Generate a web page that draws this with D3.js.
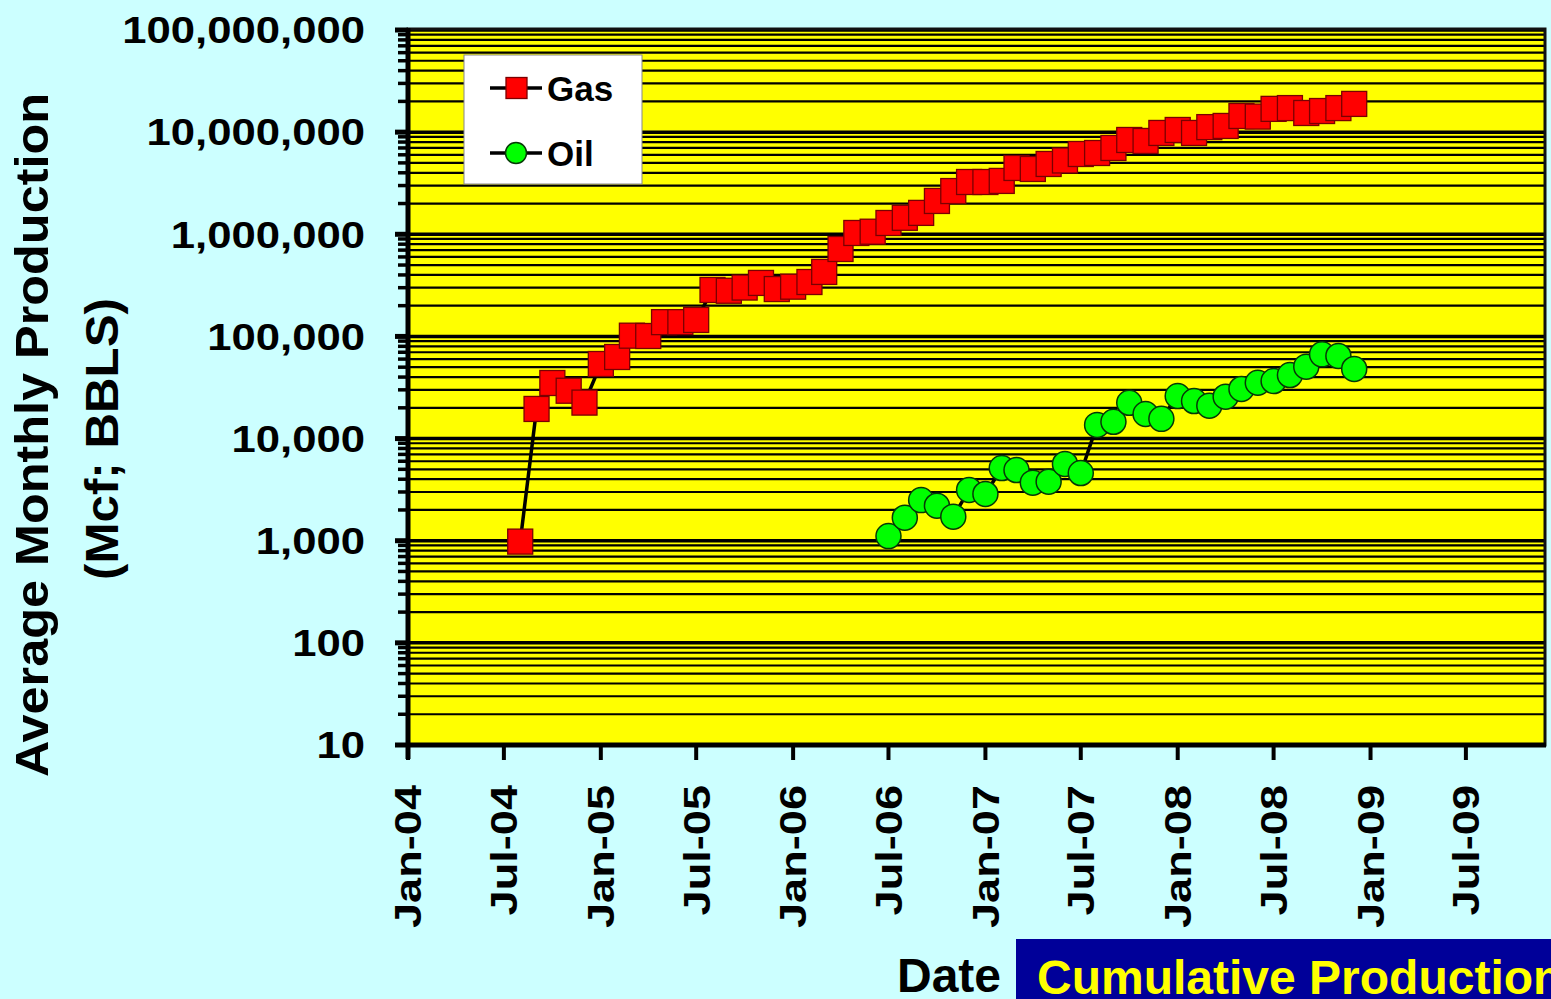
<!DOCTYPE html>
<html>
<head>
<meta charset="utf-8">
<script src="https://cdn.jsdelivr.net/npm/d3@7"></script>
<style>
  html, body { margin: 0; padding: 0; background: #CCFFFF; overflow: hidden; }
  svg { display: block; }
  text { font-family: "Liberation Sans", Arial, Helvetica, sans-serif; font-weight: bold; }
</style>
</head>
<body>
<svg id="chart" width="1551" height="999"></svg>
<script>
// ---------------- DATA ----------------
const gasMonths = ["2004-08","2004-09","2004-10","2004-11","2004-12",
  "2005-01","2005-02","2005-03","2005-04","2005-05","2005-06","2005-07","2005-08","2005-09","2005-10","2005-11","2005-12",
  "2006-01","2006-02","2006-03","2006-04","2006-05","2006-06","2006-07","2006-08","2006-09","2006-10","2006-11","2006-12",
  "2007-01","2007-02","2007-03","2007-04","2007-05","2007-06","2007-07","2007-08","2007-09","2007-10","2007-11","2007-12",
  "2008-01","2008-02","2008-03","2008-04","2008-05","2008-06","2008-07","2008-08","2008-09","2008-10","2008-11","2008-12"];
const gasValues = [980, 19500, 35000, 29400, 22500,
  53700, 62900, 101700, 101000, 138000, 138000, 145000, 285000, 280000, 301000, 334000, 291000,
  307000, 341000, 428000, 718000, 1030000, 1060000, 1290000, 1450000, 1620000, 2120000, 2650000, 3250000,
  3250000, 3330000, 4460000, 4360000, 4880000, 5280000, 6110000, 6250000, 7000000, 8380000, 8200000, 9820000,
  10500000, 9820000, 11200000, 11500000, 14400000, 14200000, 16900000, 17200000, 15400000, 16100000, 17200000, 18900000];

const oilMonths = ["2006-07","2006-08","2006-09","2006-10","2006-11","2006-12",
  "2007-01","2007-02","2007-03","2007-04","2007-05","2007-06","2007-07","2007-08","2007-09","2007-10","2007-11","2007-12",
  "2008-01","2008-02","2008-03","2008-04","2008-05","2008-06","2008-07","2008-08","2008-09","2008-10","2008-11","2008-12"];
const oilValues = [1110, 1680, 2500, 2200, 1720, 3140,
  2870, 5150, 4920, 3700, 3780, 5640, 4600, 13600, 14600, 22400, 17400, 15600,
  26100, 23300, 21000, 25700, 30600, 35200, 36600, 41900, 50600, 66800, 64400, 48000];

const yTickValues = [10, 100, 1000, 10000, 100000, 1000000, 10000000, 100000000];
const xTickLabels = ["Jan-04","Jul-04","Jan-05","Jul-05","Jan-06","Jul-06","Jan-07","Jul-07","Jan-08","Jul-08","Jan-09","Jul-09"];
const xTickDates = ["2004-01","2004-07","2005-01","2005-07","2006-01","2006-07","2007-01","2007-07","2008-01","2008-07","2009-01","2009-07"];
const seriesNames = ["Gas", "Oil"];

// ---------------- SETUP ----------------
const parse = d3.timeParse("%Y-%m");
const svg = d3.select("#chart");

const L = 408, R = 1545, T = 30, B = 745;
const x = d3.scaleTime().domain([parse("2004-01"), parse("2009-12")]).range([L, 1546.5]);
const y = d3.scaleLog().domain([10, 1e8]).range([B, T]);

const gas = gasMonths.map((m, i) => ({ date: parse(m), value: gasValues[i] }));
const oil = oilMonths.map((m, i) => ({ date: parse(m), value: oilValues[i] }));

// background
svg.append("rect").attr("x", 0).attr("y", 0).attr("width", 1551).attr("height", 999).attr("fill", "#CCFFFF");

// plot area
svg.append("rect").attr("x", L).attr("y", T - 1).attr("width", R - L).attr("height", B - T + 1)
  .attr("fill", "#FFFF00");

// gridlines
const minorVals = [];
const majorVals = [];
for (let k = 1; k <= 8; k++) {
  majorVals.push(Math.pow(10, k));
  if (k < 8) for (let m = 2; m <= 9; m++) minorVals.push(m * Math.pow(10, k));
}
svg.append("g").selectAll("line").data(minorVals).join("line")
  .attr("x1", L).attr("x2", R)
  .attr("y1", d => y(d)).attr("y2", d => y(d))
  .attr("stroke", "#000").attr("stroke-width", 2.2);
svg.append("g").selectAll("line").data(majorVals).join("line")
  .attr("x1", L).attr("x2", R)
  .attr("y1", d => y(d)).attr("y2", d => y(d))
  .attr("stroke", "#000").attr("stroke-width", 3.5);

// plot border
svg.append("rect").attr("x", L).attr("y", T - 1).attr("width", R - L).attr("height", B - T + 1)
  .attr("fill", "none").attr("stroke", "#111").attr("stroke-width", 3);

// y axis ticks (outside)
const yTicksG = svg.append("g");
yTicksG.selectAll("line.minor").data(minorVals).join("line").attr("class", "minor")
  .attr("x1", 398).attr("x2", L).attr("y1", d => y(d)).attr("y2", d => y(d))
  .attr("stroke", "#000").attr("stroke-width", 3.5);
yTicksG.selectAll("line.major").data(majorVals).join("line").attr("class", "major")
  .attr("x1", 395).attr("x2", L).attr("y1", d => y(d)).attr("y2", d => y(d))
  .attr("stroke", "#000").attr("stroke-width", 5);

// axis lines
svg.append("line").attr("x1", L).attr("x2", L).attr("y1", T - 2).attr("y2", B + 14)
  .attr("stroke", "#000").attr("stroke-width", 5);
svg.append("line").attr("x1", L - 2).attr("x2", R + 1).attr("y1", B).attr("y2", B)
  .attr("stroke", "#000").attr("stroke-width", 5);

// y tick labels
const fmt = d3.format(",");
svg.append("g").selectAll("text").data(yTickValues).join("text")
  .attr("transform", d => `translate(365,${y(d)}) scale(1.18,1)`)
  .attr("text-anchor", "end").attr("dy", "0.36em")
  .attr("font-size", 37).attr("fill", "#000")
  .text(d => fmt(d));

// x ticks
const xT = xTickDates.map(parse);
svg.append("g").selectAll("line").data(xT).join("line")
  .attr("x1", d => x(d)).attr("x2", d => x(d)).attr("y1", B).attr("y2", B + 15)
  .attr("stroke", "#000").attr("stroke-width", 4);
svg.append("g").selectAll("text").data(xT).join("text")
  .attr("transform", d => `translate(${x(d)},785) rotate(-90) scale(1.22,1)`)
  .attr("text-anchor", "end").attr("dy", "0.36em")
  .attr("font-size", 37).attr("fill", "#000")
  .text((d, i) => xTickLabels[i]);

// series
const line = d3.line().x(d => x(d.date)).y(d => y(d.value));
function drawSeries(data, type) {
  svg.append("path").datum(data).attr("d", line)
    .attr("fill", "none").attr("stroke", "#000").attr("stroke-width", 3.5).attr("stroke-linejoin", "round");
  if (type === "square") {
    svg.append("g").selectAll("rect").data(data).join("rect")
      .attr("x", d => x(d.date) - 12.5).attr("y", d => y(d.value) - 12.5)
      .attr("width", 25).attr("height", 25)
      .attr("fill", "#FF0000").attr("stroke", "#7a0000").attr("stroke-width", 1.3);
  } else {
    svg.append("g").selectAll("circle").data(data).join("circle")
      .attr("cx", d => x(d.date)).attr("cy", d => y(d.value)).attr("r", 12.5)
      .attr("fill", "#00FF00").attr("stroke", "#063806").attr("stroke-width", 1.5);
  }
}
drawSeries(gas, "square");
drawSeries(oil, "circle");

// legend
const lg = svg.append("g");
lg.append("rect").attr("x", 464).attr("y", 55).attr("width", 178).attr("height", 129)
  .attr("fill", "#FFFFFF").attr("stroke", "#888").attr("stroke-width", 1);
const legendRows = [{ name: seriesNames[0], cy: 88, type: "square" }, { name: seriesNames[1], cy: 153, type: "circle" }];
legendRows.forEach(r => {
  lg.append("line").attr("x1", 490).attr("x2", 542).attr("y1", r.cy).attr("y2", r.cy)
    .attr("stroke", "#000").attr("stroke-width", 3.5);
  if (r.type === "square") {
    lg.append("rect").attr("x", 506).attr("y", r.cy - 10.5).attr("width", 21).attr("height", 21)
      .attr("fill", "#FF0000").attr("stroke", "#7a0000").attr("stroke-width", 1.3);
  } else {
    lg.append("circle").attr("cx", 516).attr("cy", r.cy).attr("r", 10.5)
      .attr("fill", "#00FF00").attr("stroke", "#063806").attr("stroke-width", 1.5);
  }
  lg.append("text").attr("x", 547).attr("y", r.cy + 12.5)
    .attr("font-size", 35).attr("fill", "#000").text(r.name);
});

// y axis title
svg.append("text").attr("transform", "translate(48,435) rotate(-90)")
  .attr("text-anchor", "middle").attr("font-size", 46).attr("fill", "#000")
  .attr("textLength", 684).attr("lengthAdjust", "spacingAndGlyphs")
  .text("Average Monthly Production");
svg.append("text").attr("transform", "translate(118,439) rotate(-90)")
  .attr("text-anchor", "middle").attr("font-size", 46).attr("fill", "#000")
  .attr("textLength", 282).attr("lengthAdjust", "spacingAndGlyphs")
  .text("(Mcf; BBLS)");

// x axis title
svg.append("text").attr("x", 897).attr("y", 992).attr("font-size", 48).attr("fill", "#000").text("Date");

// banner
svg.append("rect").attr("x", 1016).attr("y", 939).attr("width", 540).attr("height", 65).attr("fill", "#000099");
svg.append("text").attr("x", 1037).attr("y", 994).attr("font-size", 48).attr("fill", "#FFFF00").text("Cumulative Production");
</script>
</body>
</html>
